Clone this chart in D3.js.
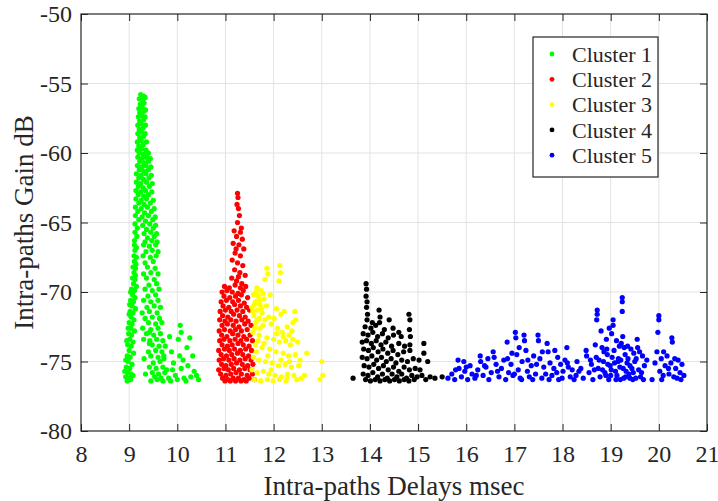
<!DOCTYPE html>
<html>
<head>
<meta charset="utf-8">
<script src="https://cdn.jsdelivr.net/npm/d3@7"></script>
<style>
  body { margin: 0; background: #fff; }
  svg { display: block; }
  text { font-family: "Liberation Serif", "Times New Roman", serif; fill: #262626; }
</style>
</head>
<body>
<svg id="chart" width="718" height="501"></svg>
<script>
// ---- axis ticks ----
const xTicks = [8, 9, 10, 11, 12, 13, 14, 15, 16, 17, 18, 19, 20, 21];
const yTicks = [-80, -75, -70, -65, -60, -55, -50];

// ---- series ----
const seriesNames = ["Cluster 1", "Cluster 2", "Cluster 3", "Cluster 4", "Cluster 5"];
const seriesColors = ["#00ff00", "#ff0000", "#ffff00", "#000000", "#0000ff"];

// [delay msec, gain dB]
const cluster1 = [
  [9.24,-55.8],[9.30,-55.9],[9.21,-56.1],[9.28,-56.2],[9.33,-56.0],[9.23,-56.5],[9.31,-56.4],[9.20,-56.8],[9.27,-56.7],[9.34,-56.9],
  [9.22,-57.1],[9.30,-57.0],[9.19,-57.4],[9.26,-57.3],[9.33,-57.4],[9.22,-57.7],[9.30,-57.6],[9.18,-58.0],[9.25,-57.9],[9.34,-58.0],
  [9.21,-58.3],[9.29,-58.2],[9.18,-58.6],[9.26,-58.5],[9.33,-58.6],[9.22,-58.9],[9.30,-58.8],[9.17,-59.2],[9.25,-59.1],[9.36,-59.2],
  [9.20,-59.5],[9.29,-59.4],[9.17,-59.8],[9.26,-59.7],[9.35,-59.8],[9.21,-60.0],[9.30,-60.1],[9.40,-60.0],
  [9.18,-60.3],[9.27,-60.4],[9.36,-60.3],[9.44,-60.4],[9.22,-60.6],[9.31,-60.7],[9.40,-60.6],
  [9.17,-60.9],[9.26,-61.0],[9.35,-60.9],[9.45,-61.0],[9.21,-61.2],[9.30,-61.3],[9.40,-61.2],
  [9.15,-61.5],[9.25,-61.6],[9.35,-61.5],[9.46,-61.6],[9.20,-61.8],[9.30,-61.9],[9.41,-61.8],
  [9.15,-62.1],[9.24,-62.2],[9.36,-62.1],[9.48,-62.2],[9.19,-62.4],[9.29,-62.5],[9.42,-62.4],
  [9.14,-62.7],[9.24,-62.8],[9.34,-62.7],[9.47,-62.8],[9.19,-63.0],[9.30,-63.1],[9.40,-63.0],
  [9.14,-63.3],[9.25,-63.4],[9.36,-63.3],[9.50,-63.4],[9.20,-63.6],[9.31,-63.7],[9.44,-63.6],
  [9.13,-63.9],[9.25,-64.0],[9.38,-63.9],[9.52,-64.0],[9.18,-64.2],[9.32,-64.3],[9.46,-64.2],
  [9.13,-64.5],[9.27,-64.6],[9.40,-64.5],[9.54,-64.6],[9.20,-64.8],[9.34,-64.9],[9.49,-64.8],
  [9.12,-65.1],[9.28,-65.2],[9.43,-65.1],[9.55,-65.2],[9.17,-65.4],[9.36,-65.5],[9.50,-65.4],
  [9.12,-65.7],[9.31,-65.8],[9.45,-65.7],[9.57,-65.8],[9.16,-66.0],[9.38,-66.1],[9.52,-66.0],
  [9.11,-66.3],[9.33,-66.4],[9.47,-66.3],[9.58,-66.4],
  [9.11,-66.6],[9.15,-66.8],[9.30,-66.6],[9.42,-66.7],[9.55,-66.6],
  [9.12,-67.0],[9.35,-67.1],[9.48,-67.0],[9.60,-67.1],
  [9.10,-67.4],[9.15,-67.5],[9.29,-67.4],[9.44,-67.5],[9.56,-67.4],
  [9.11,-67.8],[9.33,-67.9],[9.50,-67.8],
  [9.08,-68.2],[9.13,-68.3],[9.38,-68.2],[9.54,-68.3],
  [9.10,-68.6],[9.30,-68.7],[9.45,-68.6],[9.60,-68.7],
  [9.07,-69.0],[9.12,-69.1],[9.36,-69.0],[9.52,-69.1],
  [9.09,-69.4],[9.41,-69.5],[9.57,-69.4],
  [9.05,-69.8],[9.11,-69.9],[9.33,-69.8],[9.48,-69.9],[9.62,-69.8],
  [9.07,-70.2],[9.39,-70.3],[9.55,-70.2],
  [9.03,-70.6],[9.09,-70.7],[9.30,-70.6],[9.45,-70.7],[9.60,-70.6],
  [9.06,-71.0],[9.37,-71.1],[9.52,-71.0],[9.65,-71.1],
  [9.02,-71.4],[9.08,-71.5],[9.42,-71.4],[9.58,-71.5],
  [9.04,-71.8],[9.33,-71.9],[9.48,-71.8],[9.63,-71.9],
  [9.00,-72.2],[9.06,-72.3],[9.40,-72.2],[9.55,-72.3],[9.68,-72.2],
  [9.03,-72.6],[9.45,-72.7],[9.60,-72.6],
  [8.99,-73.0],[9.05,-73.1],[9.36,-73.0],[9.51,-73.1],[9.65,-73.0],
  [9.01,-73.4],[9.43,-73.5],[9.57,-73.4],[9.70,-73.5],
  [8.97,-73.8],[9.04,-73.9],[9.48,-73.8],[9.62,-73.9],
  [9.00,-74.2],[9.40,-74.3],[9.55,-74.2],[9.68,-74.3],
  [8.96,-74.6],[9.02,-74.7],[9.45,-74.6],[9.60,-74.7],[9.72,-74.6],
  [8.98,-75.0],[9.50,-75.1],[9.64,-75.0],
  [8.94,-75.4],[9.01,-75.5],[9.42,-75.4],[9.56,-75.5],[9.70,-75.4],
  [8.97,-75.8],[9.04,-75.9],[9.48,-75.8],[9.61,-75.9],[9.74,-75.8],
  [8.93,-76.1],[9.00,-76.2],[9.53,-76.1],[9.66,-76.2],
  [8.96,-76.4],[9.03,-76.3],[9.45,-76.4],[9.58,-76.3],[9.70,-76.4],
  [9.42,-73.7],[9.42,-72.9],
  [9.14,-68.0],[9.13,-68.8],[9.15,-69.6],[9.12,-70.4],[9.13,-71.2],[9.10,-72.0],[9.11,-72.8],[9.08,-73.6],
  [9.09,-74.4],[9.06,-75.2],[9.08,-76.0],[8.95,-73.5],[8.93,-74.9],[8.91,-75.7],[8.98,-72.6],[9.00,-71.6],
  [9.01,-70.9],[9.03,-70.0],[9.27,-71.5],[9.28,-72.6],[9.31,-74.8],[9.34,-75.9],[9.30,-73.4],
  [9.72,-74.8],[9.78,-75.6],[9.82,-76.2],[9.88,-74.3],[9.92,-75.1],[9.96,-76.0],[10.02,-73.4],[10.05,-74.6],[10.08,-75.5],
  [10.06,-72.4],[10.08,-72.9],[10.14,-76.2],[10.20,-74.0],[10.22,-75.3],[10.26,-73.3],[10.28,-76.1],[10.32,-74.6],[10.35,-75.7],
  [10.40,-76.0],[10.44,-76.3],[9.86,-76.4],[10.00,-76.3],[9.75,-73.9],[9.84,-73.2],[10.18,-76.4],[9.90,-75.6],[10.12,-74.9]
];

const cluster2 = [
  [11.25,-62.9],[11.26,-63.2],[11.24,-63.7],[11.27,-64.0],[11.29,-64.5],[11.25,-65.0],
  [11.18,-65.6],[11.31,-65.7],[11.23,-66.0],[11.35,-66.2],[11.16,-66.5],[11.28,-66.6],[11.38,-66.9],[11.20,-67.2],
  [11.31,-67.4],[11.14,-67.7],[11.25,-67.9],[11.36,-68.1],[11.19,-68.4],[11.30,-68.6],[11.41,-68.8],[11.13,-69.0],
  [11.23,-69.2],[11.34,-69.4],[11.27,-68.9],[11.22,-66.9],[11.33,-65.4],
  [10.98,-69.6],[11.08,-69.7],[11.20,-69.5],[11.31,-69.7],[11.42,-69.6],
  [10.93,-70.0],[11.03,-69.9],[11.14,-70.0],[11.26,-70.1],[11.37,-69.9],
  [10.97,-70.3],[11.09,-70.4],[11.21,-70.3],[11.33,-70.2],[11.46,-70.4],
  [10.91,-70.7],[11.02,-70.6],[11.15,-70.7],[11.27,-70.6],[11.39,-70.8],
  [10.95,-71.0],[11.07,-71.1],[11.19,-70.9],[11.31,-71.0],[11.44,-71.1],
  [10.89,-71.4],[11.00,-71.3],[11.12,-71.4],[11.24,-71.3],[11.36,-71.4],[11.50,-71.3],
  [10.94,-71.7],[11.05,-71.8],[11.17,-71.6],[11.29,-71.7],[11.41,-71.8],
  [10.88,-72.0],[10.99,-72.1],[11.11,-72.0],[11.22,-72.1],[11.34,-72.0],[11.47,-72.1],
  [10.93,-72.4],[11.04,-72.3],[11.16,-72.4],[11.28,-72.5],[11.40,-72.3],[11.53,-72.4],
  [10.87,-72.8],[10.98,-72.7],[11.10,-72.8],[11.21,-72.7],[11.33,-72.8],[11.45,-72.7],
  [10.92,-73.1],[11.03,-73.2],[11.15,-73.0],[11.26,-73.1],[11.38,-73.2],[11.51,-73.1],
  [10.88,-73.5],[10.97,-73.4],[11.09,-73.5],[11.20,-73.4],[11.32,-73.5],[11.44,-73.4],[11.56,-73.5],
  [10.93,-73.8],[11.04,-73.9],[11.14,-73.8],[11.26,-73.7],[11.37,-73.8],[11.49,-73.9],
  [10.86,-74.2],[10.98,-74.1],[11.08,-74.2],[11.19,-74.1],[11.31,-74.2],[11.42,-74.1],[11.54,-74.2],
  [10.91,-74.5],[11.02,-74.6],[11.13,-74.5],[11.25,-74.4],[11.36,-74.5],[11.48,-74.6],
  [10.87,-74.9],[10.96,-74.8],[11.07,-74.9],[11.18,-74.8],[11.30,-74.9],[11.41,-74.8],[11.53,-74.9],
  [10.92,-75.2],[11.01,-75.3],[11.12,-75.2],[11.23,-75.1],[11.35,-75.2],[11.46,-75.3],[11.57,-75.2],
  [10.86,-75.6],[10.97,-75.5],[11.06,-75.6],[11.17,-75.5],[11.29,-75.6],[11.40,-75.5],[11.51,-75.6],
  [10.90,-75.9],[11.01,-76.0],[11.11,-75.9],[11.22,-75.8],[11.33,-75.9],[11.45,-76.0],[11.56,-75.9],
  [10.94,-76.2],[11.05,-76.3],[11.16,-76.2],[11.27,-76.2],[11.38,-76.3],[11.49,-76.2],
  [10.99,-76.4],[11.10,-76.4],[11.21,-76.4],[11.32,-76.4],[11.43,-76.4],[11.60,-76.3]
];

const cluster3 = [
  [11.86,-68.3],[11.88,-68.7],[12.13,-68.1],[12.14,-68.6],[12.11,-69.2],[11.82,-69.1],[11.65,-69.7],[11.74,-69.9],
  [11.58,-70.2],[11.68,-70.3],[11.80,-70.5],[11.62,-70.7],[11.72,-70.9],[11.55,-71.1],[11.85,-71.0],[11.66,-71.3],
  [11.76,-71.5],[11.59,-71.7],[11.70,-71.9],[11.90,-71.8],[12.06,-71.2],[12.15,-71.6],[12.22,-71.4],[12.44,-71.4],
  [12.46,-72.0],[11.63,-72.2],[11.78,-72.4],[11.95,-72.3],[12.08,-72.6],[12.28,-72.5],[12.38,-72.8],[12.18,-72.9],
  [11.57,-72.9],[11.70,-73.1],[11.86,-73.3],[12.00,-73.4],[12.12,-73.6],[12.25,-73.5],[12.35,-73.8],[12.50,-73.6],
  [11.62,-73.8],[11.76,-74.0],[11.92,-74.1],[12.05,-74.3],[12.20,-74.4],[12.31,-74.6],[12.45,-74.5],[12.69,-74.4],
  [11.58,-74.7],[11.69,-74.9],[11.83,-75.0],[11.97,-75.1],[12.10,-75.3],[12.24,-75.2],[12.37,-75.4],[12.52,-75.3],
  [13.00,-75.0],[11.55,-75.6],[11.66,-75.8],[11.79,-75.7],[11.90,-75.9],[12.03,-76.0],[12.16,-76.1],[12.29,-75.9],
  [12.42,-76.0],[12.58,-76.2],[11.60,-76.3],[11.73,-76.4],[11.87,-76.3],[11.99,-76.4],[12.12,-76.3],[12.26,-76.4],
  [12.48,-76.3],[12.64,-76.0],[12.96,-76.3],[13.02,-76.0],[12.01,-71.9],[11.93,-70.2],[12.32,-73.1],[11.82,-72.0],
  [12.55,-74.9],[12.40,-72.2],[11.64,-74.3],[11.72,-72.6],[12.15,-74.9],[12.28,-76.1],[11.95,-75.6],[12.06,-73.0],
  [11.60,-70.9],[11.78,-70.1],[12.20,-73.2],[12.33,-75.0],[11.88,-74.6],[12.40,-73.4],
  [11.64,-70.0],[11.70,-70.6],[11.57,-71.4],[11.66,-72.0],[11.75,-71.2],[11.61,-72.6],[11.68,-73.5],[11.80,-73.7]
];

const cluster4 = [
  [13.90,-72.5],[14.02,-72.6],[14.12,-72.4],[14.30,-72.7],[14.60,-72.9],
  [13.86,-73.0],[13.96,-73.1],[14.06,-72.9],[14.16,-73.2],[14.26,-73.0],[14.38,-73.3],[14.65,-73.2],
  [13.84,-73.6],[13.93,-73.5],[14.03,-73.7],[14.13,-73.5],[14.23,-73.8],[14.33,-73.6],[14.45,-73.9],[14.60,-73.7],[14.72,-73.9],
  [13.87,-74.1],[13.97,-74.2],[14.07,-74.0],[14.17,-74.3],[14.27,-74.1],[14.37,-74.4],[14.48,-74.2],[14.58,-74.5],[14.70,-74.3],[14.83,-74.2],
  [13.84,-74.7],[13.94,-74.8],[14.04,-74.6],[14.14,-74.9],[14.24,-74.7],[14.34,-75.0],[14.44,-74.8],[14.54,-75.1],[14.66,-74.9],[14.78,-75.0],[14.90,-74.8],
  [13.88,-75.3],[13.98,-75.4],[14.08,-75.2],[14.18,-75.5],[14.28,-75.3],[14.38,-75.6],[14.49,-75.4],[14.60,-75.7],[14.71,-75.4],[14.82,-75.6],[14.94,-75.5],
  [13.86,-75.9],[13.96,-76.0],[14.06,-75.8],[14.16,-76.1],[14.26,-75.9],[14.36,-76.2],[14.46,-75.9],[14.56,-76.1],[14.66,-75.9],[14.76,-76.2],[14.87,-76.0],[14.98,-76.1],
  [13.91,-76.3],[14.01,-76.4],[14.11,-76.3],[14.21,-76.4],[14.31,-76.3],[14.41,-76.4],[14.51,-76.3],[14.61,-76.4],[14.71,-76.3],[14.81,-76.4],[14.92,-76.3],
  [13.92,-69.4],[13.93,-69.8],[13.92,-70.3],[13.94,-70.7],[13.93,-71.1],[13.95,-71.6],[13.94,-72.0],[14.19,-71.3],[14.21,-71.8],
  [14.20,-72.2],[14.81,-71.6],[14.83,-72.0],[14.82,-72.7],[14.84,-73.2],[14.83,-73.8],[14.48,-72.6],[14.49,-73.1],[15.12,-73.7],
  [15.12,-74.4],[15.20,-75.0],[14.40,-72.0],[14.05,-72.2],
  [15.04,-75.6],[15.08,-76.0],[15.16,-76.3],[15.25,-76.1],[15.35,-76.2],[15.50,-76.1],[13.65,-76.2],[15.02,-74.9]
];

const cluster5 = [
  [15.62,-76.2],[15.70,-75.9],[15.76,-76.3],[15.83,-74.9],[15.85,-75.5],[15.90,-76.1],[15.97,-75.7],[16.03,-76.3],
  [16.08,-75.3],[16.12,-75.9],[16.18,-76.2],[16.24,-75.6],[16.29,-74.6],[16.30,-75.0],[16.35,-76.0],[16.41,-75.4],
  [16.47,-76.3],[16.52,-75.8],[16.56,-74.3],[16.58,-74.7],[16.62,-75.2],[16.68,-76.1],[16.73,-75.5],[16.78,-74.9],
  [16.82,-76.3],[16.85,-73.6],[16.88,-75.8],[16.93,-75.2],[16.97,-76.0],[17.02,-72.9],[17.03,-73.3],[17.05,-74.5],
  [17.08,-75.6],[17.12,-76.2],[17.16,-75.0],[17.20,-73.1],[17.21,-73.5],[17.24,-74.2],[17.27,-75.7],[17.31,-76.1],
  [17.35,-75.3],[17.40,-74.6],[17.44,-75.9],[17.49,-73.1],[17.50,-73.5],[17.53,-74.8],[17.57,-76.2],[17.61,-75.4],
  [17.65,-75.9],[17.68,-73.7],[17.70,-74.3],[17.74,-75.1],[17.78,-76.0],[17.82,-75.5],[17.84,-74.2],[17.88,-75.8],
  [17.92,-76.3],[17.96,-75.2],[18.01,-75.7],[18.05,-74.9],[18.09,-74.0],[18.12,-75.4],[18.16,-76.1],[18.20,-75.6],
  [15.95,-75.0],[16.45,-74.8],[17.38,-76.3],[16.95,-74.4],[17.90,-74.7],[18.30,-75.0],[18.34,-75.7],
  [15.78,-75.6],[16.00,-75.4],[16.21,-76.0],[16.38,-75.3],[16.65,-75.7],[16.86,-74.8],[17.00,-75.9],[17.15,-76.3],
  [17.28,-74.9],[17.46,-75.2],[17.58,-74.3],[17.72,-76.3],[17.99,-76.2],[18.10,-75.1],[18.24,-76.3],[17.10,-74.0],
  [18.28,-76.0],[18.38,-75.5],[18.43,-76.2],[18.49,-74.2],[18.50,-74.6],[18.55,-75.8],[18.60,-75.2],[18.63,-76.3],
  [18.68,-73.8],[18.70,-74.7],[18.72,-71.3],[18.72,-71.6],[18.71,-72.0],[18.74,-75.5],[18.78,-76.1],[18.80,-72.8],
  [18.82,-74.0],[18.85,-75.0],[18.88,-75.8],[18.91,-73.4],[18.93,-74.5],[18.96,-76.3],[18.99,-75.3],[19.02,-73.0],
  [19.05,-72.0],[19.05,-72.4],[19.07,-74.2],[19.10,-75.7],[19.13,-76.0],[19.16,-74.8],[19.19,-75.4],[19.22,-73.7],
  [19.24,-70.4],[19.24,-70.7],[19.24,-71.4],[19.25,-73.2],[19.27,-76.2],[19.30,-74.5],[19.34,-75.1],[19.38,-75.9],
  [19.42,-74.1],[19.46,-76.3],[19.50,-75.0],[19.55,-73.4],[19.56,-74.0],[19.58,-75.6],[19.62,-76.1],[19.66,-74.6],
  [19.70,-75.3],[19.86,-76.3],[19.92,-75.1],[19.96,-74.3],[20.00,-71.7],[20.00,-72.0],[19.98,-72.9],[20.02,-75.7],
  [20.05,-74.8],[20.09,-76.0],[20.13,-75.3],[20.17,-74.6],[20.21,-75.9],[20.25,-75.1],[20.27,-73.3],[20.28,-73.6],
  [20.31,-76.1],[20.35,-75.5],[20.40,-74.9],[20.44,-75.8],[20.48,-75.2],[20.52,-76.0],[18.97,-72.6],[19.12,-73.5],
  [19.35,-73.9],[19.48,-74.4],[18.58,-74.9],[19.00,-76.0],[19.44,-75.5],[19.75,-74.9],[18.90,-76.0],[19.08,-75.1],
  [19.20,-76.3],[19.32,-75.7],[19.52,-76.2],[18.86,-74.3],[19.28,-74.0],[19.40,-76.2],[20.06,-76.3],[20.38,-76.2],
  [18.76,-74.9],[18.83,-75.6],[18.94,-75.2],[19.03,-74.7],[19.11,-76.3],[19.15,-75.0],[19.18,-73.9],[19.21,-74.9],
  [19.31,-76.1],[19.36,-74.8],[19.40,-75.3],[19.47,-75.8],[19.53,-74.8],[19.60,-74.3],[19.64,-75.8],[19.68,-76.3],
  [18.66,-75.6],[18.92,-74.1],[19.01,-75.6],[19.26,-75.5],[20.10,-74.3],[20.20,-75.5],[20.33,-74.8],[20.46,-76.3]
];

const seriesData = [cluster1, cluster2, cluster3, cluster4, cluster5];

// ---- layout ----
const svg = d3.select("#chart");
const x = d3.scaleLinear().domain([8, 21]).range([81, 707]);
const y = d3.scaleLinear().domain([-80, -50]).range([431, 14]);
const axisColor = "#262626";
const tickLen = 7;
const plainNumber = d => String(d);

// grid
const grid = svg.append("g");
grid.selectAll("line.vx").data(xTicks.slice(1, -1)).join("line")
  .attr("x1", d => x(d)).attr("x2", d => x(d))
  .attr("y1", y(-80)).attr("y2", y(-50))
  .attr("stroke", "#e3e3e3").attr("stroke-width", 1);
grid.selectAll("line.hy").data(yTicks.slice(1, -1)).join("line")
  .attr("x1", x(8)).attr("x2", x(21))
  .attr("y1", d => y(d)).attr("y2", d => y(d))
  .attr("stroke", "#e3e3e3").attr("stroke-width", 1);

// points
const marks = svg.append("g");
seriesData.forEach((pts, i) => {
  marks.append("g").selectAll("circle").data(pts).join("circle")
    .attr("cx", d => x(d[0]))
    .attr("cy", d => y(d[1]))
    .attr("r", 2.6)
    .attr("fill", seriesColors[i]);
});

// axes (ticks point inward on all four sides)
const gx = svg.append("g").attr("transform", `translate(0,${y(-80)})`)
  .call(d3.axisBottom(x).tickValues(xTicks).tickFormat(plainNumber)
    .tickSizeInner(-tickLen).tickSizeOuter(0).tickPadding(14));
const gy = svg.append("g").attr("transform", `translate(${x(8)},0)`)
  .call(d3.axisLeft(y).tickValues(yTicks).tickFormat(plainNumber)
    .tickSizeInner(-tickLen).tickSizeOuter(0).tickPadding(9));
const gt = svg.append("g").attr("transform", `translate(0,${y(-50)})`)
  .call(d3.axisTop(x).tickValues(xTicks).tickFormat("").tickSizeInner(-tickLen).tickSizeOuter(0));
const gr = svg.append("g").attr("transform", `translate(${x(21)},0)`)
  .call(d3.axisRight(y).tickValues(yTicks).tickFormat("").tickSizeInner(-tickLen).tickSizeOuter(0));

[gx, gy, gt, gr].forEach(g => {
  g.select(".domain").remove();
  g.selectAll(".tick line").attr("stroke", axisColor).attr("stroke-width", 1);
  g.selectAll(".tick text")
    .attr("font-family", '"Liberation Serif", "Times New Roman", serif')
    .attr("font-size", 24).attr("fill", axisColor);
});

// axes box
svg.append("rect")
  .attr("x", x(8)).attr("y", y(-50))
  .attr("width", x(21) - x(8)).attr("height", y(-80) - y(-50))
  .attr("fill", "none").attr("stroke", axisColor).attr("stroke-width", 1.2);

// axis titles
svg.append("text")
  .attr("x", (x(8) + x(21)) / 2).attr("y", 495)
  .attr("text-anchor", "middle").attr("font-size", 27)
  .text("Intra-paths Delays msec");
svg.append("text")
  .attr("transform", `translate(33,${(y(-50) + y(-80)) / 2}) rotate(-90)`)
  .attr("text-anchor", "middle").attr("font-size", 27)
  .text("Intra-paths Gain dB");

// legend
const legend = svg.append("g");
legend.append("rect")
  .attr("x", 533).attr("y", 37).attr("width", 125).attr("height", 140)
  .attr("fill", "#fff").attr("stroke", axisColor).attr("stroke-width", 1.2);
const rows = legend.selectAll("g.row").data(seriesNames).join("g")
  .attr("transform", (d, i) => `translate(0,${54 + i * 25.3})`);
rows.append("circle").attr("cx", 552).attr("cy", 0).attr("r", 2.4)
  .attr("fill", (d, i) => seriesColors[i]);
rows.append("text").attr("x", 572).attr("y", 0).attr("dy", "0.35em")
  .attr("font-size", 22).text(d => d);
</script>
</body>
</html>
